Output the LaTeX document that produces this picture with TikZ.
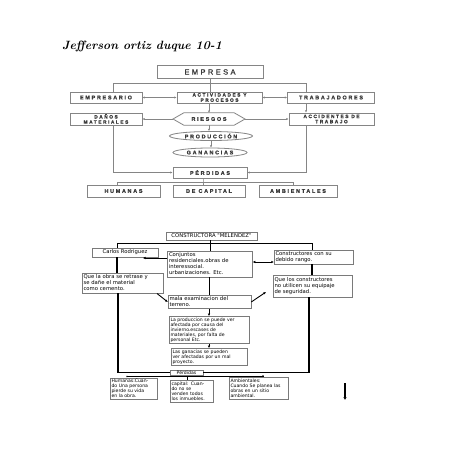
\documentclass[tikz,border=0pt]{standalone}
\usepackage{fontspec}
\newfontfamily\widefont[LetterSpace=32,FakeBold=1.2]{Liberation Sans}
\newfontfamily\smallfont{DejaVu Sans}
\usetikzlibrary{arrows.meta,shapes.geometric}
\definecolor{tgray}{HTML}{858585}
\definecolor{ttext}{HTML}{3A3A3A}
\definecolor{bgray}{HTML}{7A7A7A}
\begin{document}
\begin{tikzpicture}[x=1pt,y=-1pt,
  tline/.style={draw=tgray, line width=0.8pt},
  tbox/.style={draw=tgray, line width=0.8pt, fill=white, inner sep=0pt, align=center, text=ttext,
    font=\widefont\bfseries\fontsize{5.4}{5.8}\selectfont},
  tboxtwo/.style={tbox, font=\widefont\bfseries\fontsize{4.8}{5.2}\selectfont},
  tell/.style={tbox, ellipse},
  tarrow/.style={tline, -{Latex[length=2.2pt,width=2.2pt]}},
  tdarrow/.style={tline, {Latex[length=2.2pt,width=2.2pt]}-{Latex[length=2.2pt,width=2.2pt]}},
  bbox/.style={draw=bgray, line width=0.5pt, fill=white, inner sep=1.5pt, align=left, text=black,
    font=\smallfont\fontsize{5.3}{6}\selectfont},
  bsmall/.style={bbox, font=\smallfont\fontsize{4.6}{5}\selectfont},
  bline/.style={draw=black, line width=0.5pt},
  bheavy/.style={draw=black, line width=1.5pt},
  barrow/.style={draw=black, line width=0.9pt, -{Latex[length=2.5pt,width=2.5pt]}},
  bdarrow/.style={draw=black, line width=0.9pt, {Latex[length=2.5pt,width=2.5pt]}-{Latex[length=2.5pt,width=2.5pt]}},
  tiparrow/.style={draw=black, line width=0.4pt, -{Latex[length=1.6pt,width=1.6pt]}}
]
\fill[white] (0,0) rectangle (452,452);
\useasboundingbox (0,0) rectangle (452,452);

% Title
\node[anchor=west, inner sep=0pt, font=\fontsize{12}{13}\selectfont\bfseries\itshape] (title) at (62,46) {Jefferson ortiz duque 10-1};

% ---------- Top diagram ----------
\node[tbox, minimum width=106pt, minimum height=13pt, font=\widefont\fontsize{7.5}{8}\selectfont] (empresa) at (210,72) {EMPRESA};
\node[tbox, minimum width=72pt, minimum height=11pt] (empresario) at (106,97.5) {EMPRESARIO};
\node[tboxtwo, minimum width=85pt, minimum height=11pt] (activ) at (219.5,97.5) {ACTIVIDADES Y\\PROCESOS};
\node[tbox, minimum width=87pt, minimum height=11pt] (trab) at (331,97.5) {TRABAJADORES};
\node[tboxtwo, minimum width=72pt, minimum height=12pt] (danos) at (106,119) {DAÑOS\\MATERIALES};
\node[tboxtwo, minimum width=85pt, minimum height=12pt] (acc) at (331.5,119) {ACCIDENTES DE\\TRABAJO};
\coordinate (rw) at (173,119);
\coordinate (re) at (245,119);
\node[inner sep=0pt, minimum width=50pt, minimum height=12pt, text=ttext,
  font=\widefont\bfseries\fontsize{5.4}{5.8}\selectfont] (riesgos) at (209,119) {RIESGOS};
\draw[tline, fill=white] (rw) -- (riesgos.north west) -- (riesgos.north east) -- (re) -- (riesgos.south east) -- (riesgos.south west) -- cycle;
\node[inner sep=0pt, text=ttext, font=\widefont\bfseries\fontsize{5.4}{5.8}\selectfont] at (riesgos) {RIESGOS};
\node[tell, minimum width=83pt, minimum height=9pt] (prod) at (211,136) {PRODUCCIÓN};
\node[tell, minimum width=74pt, minimum height=9pt] (gan) at (210,152.5) {GANANCIAS};
\node[tbox, minimum width=74pt, minimum height=11pt] (perd) at (210,172.5) {PÉRDIDAS};
\node[tbox, minimum width=73pt, minimum height=12pt] (hum) at (123.5,191) {HUMANAS};
\node[tbox, minimum width=72pt, minimum height=12pt] (cap) at (209,191) {DE CAPITAL};
\node[tbox, minimum width=78pt, minimum height=12pt] (amb) at (298,191) {AMBIENTALES};

\coordinate (hl) at (113,83);
\coordinate (hr) at (306,83);
\draw[tline] (empresa.south) -- (empresa.south |- activ.north);
\draw[tline] (hl |- empresario.north) -- (hl) -- (hr) -- (hr |- trab.north);
\draw[tdarrow] (empresario) -- (activ);
\draw[tdarrow] (activ) -- (trab);
\draw[tarrow] (activ.south -| riesgos) -- (riesgos.north);
\draw[tarrow] (rw) -- (danos.east);
\draw[tarrow] (re) -- (acc.west);
\draw[tarrow] (hr |- trab.south) -- (hr |- acc.north);
\draw[tarrow] (riesgos.south) -- (riesgos.south |- prod.north);
\draw[tarrow] (prod.south) -- (prod.south |- gan.north);
\draw[tarrow] (hl |- danos.south) |- (perd.west);
\draw[tarrow] (hr |- acc.south) |- (perd.east);
\coordinate (bl) at (117,182);
\coordinate (bm) at (203,182);
\coordinate (br) at (293,182);
\draw[tline] (bm |- perd.south) -- (bm) -- (bm |- cap.north);
\draw[tline] (bl |- hum.north) -- (bl) -- (br) -- (br |- amb.north);

% ---------- Bottom diagram ----------
\node[bbox, inner sep=0pt, align=center, minimum width=91pt, minimum height=8pt] (constr) at (211.5,236) {CONSTRUCTORA "MELENDEZ"};
\node[bbox, inner sep=0pt, align=center, minimum width=66pt, minimum height=9pt] (carlos) at (125,252.5) {Carlos Rodriguez};
\node[bbox, text width=82pt, minimum height=26pt] (conj) at (210,264) {Conjuntos\\residenciales.obras de\\interessocial.\\urbanizaciones. Etc.};
\node[bbox, text width=76pt, minimum height=14pt] (constructores) at (313.5,257) {Constructores con su\\debido rango.};
\node[bbox, text width=78pt, minimum height=20pt] (obra) at (122.5,283) {Que la obra se retrase y\\se dañe el material\\como cemento.};
\node[bbox, text width=76pt, minimum height=22pt] (losc) at (312.5,286) {Que los constructores\\no utilicen su equipaje\\de seguridad.};
\node[bbox, text width=80pt, minimum height=12pt] (mala) at (209.5,302) {mala examinacion del\\terreno.};
\node[bsmall, text width=77pt, minimum height=26pt] (prod2) at (209,330) {La produccion se puede ver\\afectada por causa del\\invierno.escases de\\materiales, por falta de\\personal Etc.};
\node[bsmall, text width=73pt, minimum height=16pt] (gan2) at (209,357) {Las ganacias se pueden\\ver afectadas por un mal\\proyecto.};
\node[bsmall, inner sep=0pt, align=center, minimum width=33pt, minimum height=5.5pt] (perd2) at (186.5,372.5) {Pérdidas};
\node[bsmall, text width=44pt, minimum height=21pt] (hum2) at (133.5,388.5) {Humanas:Cuan-\\do Una persona\\pierde su vida\\en la obra.};
\node[bsmall, text width=40pt, minimum height=19pt] (cap2) at (191.5,391) {capital: Cuan-\\do no se\\venden todos\\los inmuebles.};
\node[bsmall, text width=56pt, minimum height=20pt] (amb2) at (258.5,388) {Ambientales:\\Cuando Se planea las\\obras en un sitio\\ambiental.};

\coordinate (cl) at (117,243);
\coordinate (cr) at (312,243);
\draw[bline] (conj.north |- constr.south) -- (conj.north);
\draw[bline] (cl |- carlos.north) -- (cl) -- (cr) -- (cr |- constructores.north);
\coordinate (carend) at (143,258);
\draw[barrow] (conj.west |- carend) -- (carend);
\coordinate (dy) at (0,262);
\draw[bdarrow] (conj.east |- dy) -- (constructores.west |- dy);
\draw[bheavy] (cl |- carlos.south) -- (cl |- obra.north);
\draw[bheavy] (cr |- constructores.south) -- (cr |- losc.north);
\draw[bheavy] (mala.north |- conj.south) -- (mala.north);
\coordinate (d1) at (157,293.5);
\draw[barrow] (d1) -- (mala.west);
\coordinate (d2) at (266,292);
\draw[barrow] (mala.east) -- (d2);
\draw[barrow] (prod2.north |- mala.south) -- (prod2.north);
\draw[barrow] (prod2.south) -- (gan2.north);
\coordinate (pl) at (118,372.5);
\coordinate (pr) at (309,372.5);
\draw[bheavy] (pl |- obra.south) -- (pl) -- (perd2.west);
\draw[bheavy] (perd2.east) -- (pr) -- (pr |- losc.south);
\coordinate (ql) at (127,376.5);
\coordinate (qm) at (187,376.5);
\coordinate (qr) at (263,376.5);
\draw[bline] (ql) -- (qr);
\draw[tiparrow] (ql) -- (ql |- hum2.north);
\draw[bline] (qm) -- (qm |- cap2.north);
\draw[tiparrow] (qr) -- (qr |- amb2.north);
\coordinate (sa) at (345,383);
\coordinate (sb) at (345,400);
\draw[bheavy, -{Latex[length=3pt,width=3.5pt]}] (sa) -- (sb);
\end{tikzpicture}
\end{document}
